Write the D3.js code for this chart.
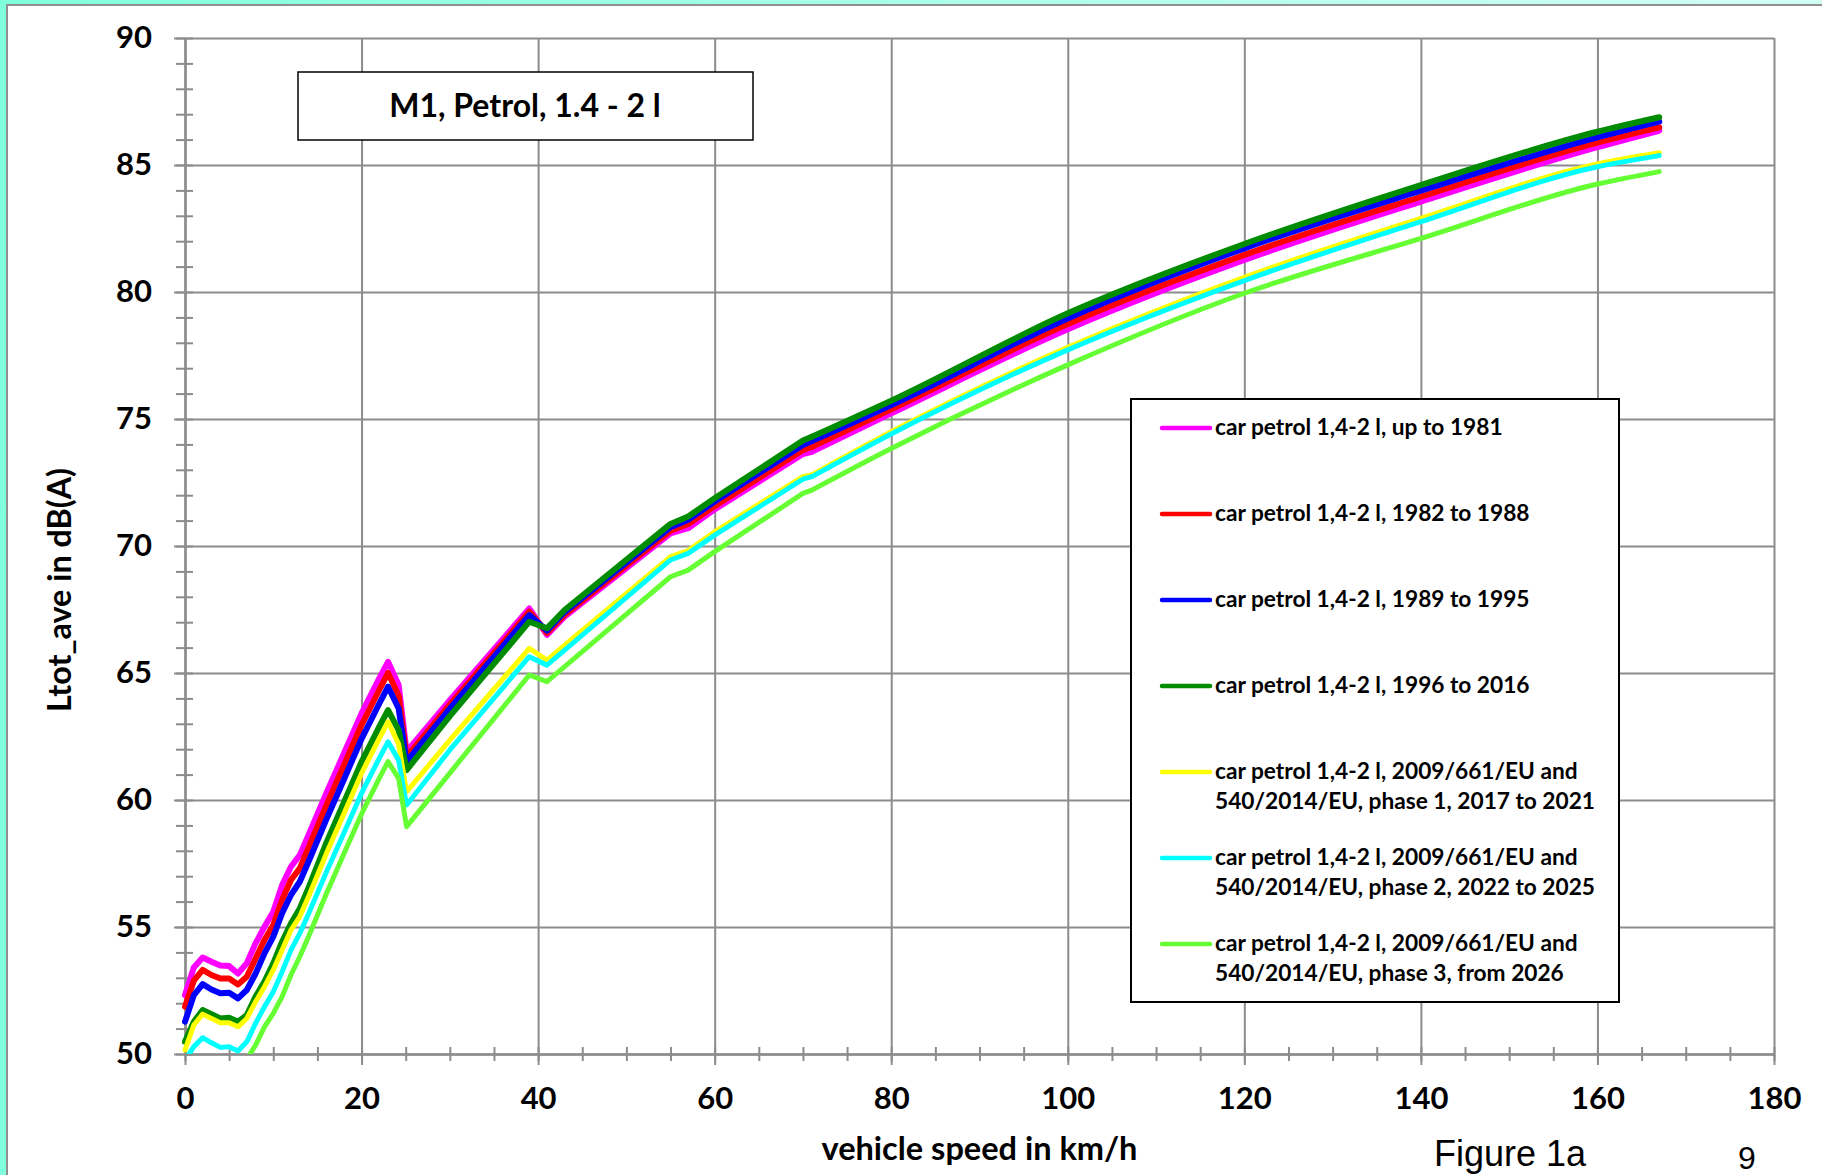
<!DOCTYPE html>
<html>
<head>
<meta charset="utf-8">
<script src="https://cdn.jsdelivr.net/npm/d3@7"></script>
<style>
  body { margin: 0; background: #fff; }
  svg { display: block; }
</style>
</head>
<body>
<svg id="chart"></svg>
<script>
// vehicle speed in km/h (x values of the read points)
var speed = [0, 1, 2, 3, 4, 5, 6, 7, 8, 9, 10, 11, 12, 13,
  14, 16, 18, 20, 22, 23, 24.2, 25.1, 30, 39, 41, 43,
  55, 57, 60, 70, 71, 80, 100, 120, 140, 160, 167];

// Ltot_ave in dB(A), one array per vehicle class
var upTo1981 = [52.32, 53.41, 53.80, 53.63, 53.48, 53.46, 53.17, 53.57, 54.36, 55.01, 55.60, 56.65, 57.37, 57.83,
  58.62, 60.26, 61.83, 63.41, 64.79, 65.44, 64.53, 61.90, 63.93, 67.54, 66.50, 67.22,
  70.50, 70.70, 71.44, 73.62, 73.71, 75.22, 78.53, 81.26, 83.56, 85.70, 86.35];
var y1982to1988 = [51.86, 52.89, 53.31, 53.11, 52.97, 52.97, 52.74, 53.04, 53.76, 54.49, 55.08, 56.06, 56.85, 57.31,
  58.12, 59.78, 61.36, 62.95, 64.33, 65.00, 64.10, 61.70, 63.75, 67.41, 66.58, 67.30,
  70.60, 70.87, 71.57, 73.78, 73.90, 75.38, 78.74, 81.46, 83.75, 85.88, 86.48];
var y1989to1995 = [51.27, 52.32, 52.75, 52.54, 52.39, 52.41, 52.19, 52.52, 53.17, 53.96, 54.62, 55.54, 56.26, 56.78,
  57.58, 59.23, 60.81, 62.41, 63.79, 64.46, 63.60, 61.51, 63.60, 67.28, 66.67, 67.40,
  70.74, 71.03, 71.75, 73.98, 74.13, 75.55, 78.96, 81.72, 83.99, 86.09, 86.71];
var y1996to2016 = [50.48, 51.27, 51.73, 51.57, 51.40, 51.43, 51.27, 51.53, 52.26, 52.85, 53.57, 54.42, 55.14, 55.73,
  56.55, 58.30, 59.90, 61.50, 62.88, 63.54, 62.75, 61.18, 63.30, 67.02, 66.76, 67.48,
  70.87, 71.16, 71.88, 74.15, 74.30, 75.72, 79.16, 81.89, 84.21, 86.31, 86.88];
var phase1 = [50.16, 51.14, 51.57, 51.40, 51.23, 51.23, 51.07, 51.40, 52.06, 52.65, 53.31, 54.09, 54.88, 55.41,
  56.20, 57.88, 59.46, 61.05, 62.42, 63.08, 62.20, 60.33, 62.36, 65.97, 65.51, 66.10,
  69.58, 69.82, 70.56, 72.73, 72.80, 74.50, 77.82, 80.58, 82.90, 85.04, 85.48];
var phase2 = [49.75, 50.29, 50.64, 50.44, 50.26, 50.29, 50.12, 50.48, 51.21, 51.86, 52.45, 53.24, 54.09, 54.75,
  55.52, 57.15, 58.70, 60.27, 61.64, 62.29, 61.57, 59.80, 61.97, 65.64, 65.31, 65.90,
  69.45, 69.71, 70.43, 72.63, 72.73, 74.41, 77.72, 80.45, 82.77, 84.93, 85.37];
var phase3 = [null, null, null, null, null, null, null, 49.80, 50.35, 51.07, 51.60, 52.26, 53.11, 53.83,
  54.63, 56.30, 57.88, 59.45, 60.85, 61.51, 60.85, 58.95, 61.06, 64.92, 64.66, 65.25,
  68.79, 69.05, 69.78, 72.07, 72.20, 73.84, 77.13, 79.95, 82.11, 84.25, 84.74];

var legendLabels = [
  ["car petrol 1,4-2 l, up to 1981"],
  ["car petrol 1,4-2 l, 1982 to 1988"],
  ["car petrol 1,4-2 l, 1989 to 1995"],
  ["car petrol 1,4-2 l, 1996 to 2016"],
  ["car petrol 1,4-2 l, 2009/661/EU and", "540/2014/EU, phase 1, 2017 to 2021"],
  ["car petrol 1,4-2 l, 2009/661/EU and", "540/2014/EU, phase 2, 2022 to 2025"],
  ["car petrol 1,4-2 l, 2009/661/EU and", "540/2014/EU, phase 3, from 2026"]
];
var xMajor = [0, 20, 40, 60, 80, 100, 120, 140, 160, 180];
var yMajor = [50, 55, 60, 65, 70, 75, 80, 85, 90];
// above this speed (last gear) the curves are smooth
var lastShift = 71;

var colors = ["#ff00ff", "#ff0000", "#0000ff", "#008c00", "#ffff00", "#00ffff", "#66ff33"];
var widths = [6, 6, 6, 6, 5, 5, 5];
var allSeries = [upTo1981, y1982to1988, y1989to1995, y1996to2016, phase1, phase2, phase3];

var W = 1822, H = 1175;
var svg = d3.select("#chart").attr("width", W).attr("height", H),
    margin = {top: 38, right: 48, bottom: 121, left: 185},
    width = W - margin.left - margin.right,
    height = H - margin.top - margin.bottom;

var calibri = "Lato, 'Open Sans', sans-serif";
var gridColor = "#8c8c8c";

// page frame
var grad = svg.append("defs").append("linearGradient").attr("id", "frame")
    .attr("x1", "0").attr("x2", "1").attr("y1", "0").attr("y2", "0");
grad.append("stop").attr("offset", "0").attr("stop-color", "#80ffdc");
grad.append("stop").attr("offset", "1").attr("stop-color", "#d2fff4");
svg.append("rect").attr("width", W).attr("height", H).attr("fill", "url(#frame)");
svg.append("rect").attr("x", 7).attr("y", 5).attr("width", W - 7).attr("height", H - 5).attr("fill", "#fff");
svg.append("path").attr("d", "M7,1175V5H1822").attr("fill", "none")
    .attr("stroke", "#909090").attr("stroke-width", 2);

var g = svg.append("g").attr("transform", "translate(" + margin.left + "," + margin.top + ")");

var x = d3.scaleLinear().domain([0, 180]).range([0, width]),
    y = d3.scaleLinear().domain([50, 90]).range([height, 0]);

// gridlines
var xGrid = g.append("g").attr("transform", "translate(0," + height + ")")
    .call(d3.axisBottom(x).tickValues(xMajor).tickSize(-height).tickFormat(""));
xGrid.select(".domain").remove();
xGrid.selectAll(".tick line").attr("y1", 11).attr("stroke", gridColor).attr("stroke-width", 2);

var yGrid = g.append("g")
    .call(d3.axisLeft(y).tickValues(yMajor).tickSize(-width).tickFormat(""));
yGrid.select(".domain").remove();
yGrid.selectAll(".tick line").attr("x1", -11).attr("stroke", gridColor).attr("stroke-width", 2);

// minor ticks + axis lines
var xMinorAxis = g.append("g").attr("transform", "translate(0," + height + ")")
    .call(d3.axisBottom(x).tickValues(d3.range(0, 181, 5)).tickSize(0).tickSizeOuter(0).tickFormat(""));
xMinorAxis.selectAll(".tick line").attr("y1", -7).attr("y2", 7).attr("stroke", gridColor).attr("stroke-width", 2);
xMinorAxis.select(".domain").attr("stroke", gridColor).attr("stroke-width", 2.5);

var yMinorAxis = g.append("g")
    .call(d3.axisLeft(y).tickValues(d3.range(50, 91, 1)).tickSize(0).tickSizeOuter(0).tickFormat(""));
yMinorAxis.selectAll(".tick line").attr("x1", -9).attr("x2", 8).attr("stroke", gridColor).attr("stroke-width", 2);
yMinorAxis.select(".domain").attr("stroke", gridColor).attr("stroke-width", 2.5);

// tick labels
var xLabels = g.append("g").attr("transform", "translate(0," + height + ")")
    .call(d3.axisBottom(x).tickValues(xMajor).tickSize(0).tickPadding(33));
xLabels.select(".domain").remove();
xLabels.attr("font-family", calibri).attr("font-size", 31).attr("font-weight", "bold");
xLabels.selectAll("text").attr("fill", "#000");

var yLabels = g.append("g")
    .call(d3.axisLeft(y).tickValues(yMajor).tickSize(0).tickPadding(33));
yLabels.select(".domain").remove();
yLabels.attr("font-family", calibri).attr("font-size", 31).attr("font-weight", "bold");
yLabels.selectAll("text").attr("fill", "#000");

// series
g.append("clipPath").attr("id", "clip")
  .append("rect").attr("x", -4).attr("y", -6).attr("width", width + 8).attr("height", height + 6);

// gear-change part: straight segments; top-gear part: smooth
var lowLine = d3.line()
    .defined(function(d) { return d.value != null && d.speed <= lastShift; })
    .x(function(d) { return x(d.speed); })
    .y(function(d) { return y(d.value); });
var highLine = d3.line()
    .defined(function(d) { return d.speed >= lastShift; })
    .curve(d3.curveMonotoneX)
    .x(function(d) { return x(d.speed); })
    .y(function(d) { return y(d.value); });

var series = allSeries.map(function(vals, i) {
  return {
    id: i,
    values: speed.map(function(s, j) { return {speed: s, value: vals[j]}; })
  };
});

var keyword = g.selectAll(".series")
  .data(series)
  .enter().append("g")
    .attr("class", "series")
    .attr("clip-path", "url(#clip)")
    .attr("fill", "none")
    .attr("stroke", function(d) { return colors[d.id]; })
    .attr("stroke-width", function(d) { return widths[d.id]; })
    .attr("stroke-linejoin", "round")
    .attr("stroke-linecap", "round");

keyword.append("path").attr("d", function(d) { return lowLine(d.values); });
keyword.append("path").attr("d", function(d) { return highLine(d.values); });

// title box
svg.append("rect").attr("x", 298).attr("y", 72).attr("width", 455).attr("height", 68)
    .attr("fill", "#fff").attr("stroke", "#000").attr("stroke-width", 1.5);
svg.append("text").attr("x", 525).attr("y", 117)
    .attr("text-anchor", "middle").attr("font-family", calibri).attr("font-size", 32).attr("font-weight", "bold")
    .text("M1, Petrol, 1.4 - 2 l");

// legend
var legend = svg.append("g").attr("transform", "translate(1131,399)");
legend.append("rect").attr("width", 488).attr("height", 603)
    .attr("fill", "#fff").attr("stroke", "#000").attr("stroke-width", 2);

var entry = legend.selectAll(".entry")
  .data(legendLabels)
  .enter().append("g")
    .attr("class", "entry")
    .attr("transform", function(d, i) { return "translate(0," + (29 + i * 86) + ")"; });

entry.append("line")
    .attr("x1", 31).attr("x2", 79)
    .attr("stroke", function(d, i) { return colors[i]; })
    .attr("stroke-width", 4.5).attr("stroke-linecap", "round");

entry.append("text")
    .attr("font-family", calibri).attr("font-size", 22.7).attr("font-weight", "bold")
    .selectAll("tspan")
    .data(function(d) { return d; })
    .enter().append("tspan")
      .attr("x", 84)
      .attr("y", function(d, i) { return 7 + i * 30; })
      .text(function(d) { return d; });

// axis titles
svg.append("text")
    .attr("transform", "translate(58,590) rotate(-90)")
    .attr("text-anchor", "middle").attr("dominant-baseline", "central")
    .attr("font-family", calibri).attr("font-size", 32.3).attr("font-weight", "bold")
    .text("Ltot_ave in dB(A)");

svg.append("text")
    .attr("x", margin.left + width / 2).attr("y", 1160)
    .attr("text-anchor", "middle")
    .attr("font-family", calibri).attr("font-size", 32.5).attr("font-weight", "bold")
    .text("vehicle speed in km/h");

svg.append("text").attr("x", 1434).attr("y", 1166)
    .attr("font-family", "'Liberation Sans', Arial, sans-serif").attr("font-size", 36)
    .text("Figure 1a");
svg.append("text").attr("x", 1738).attr("y", 1169)
    .attr("font-family", "'Liberation Sans', Arial, sans-serif").attr("font-size", 32)
    .text("9");
</script>
</body>
</html>
